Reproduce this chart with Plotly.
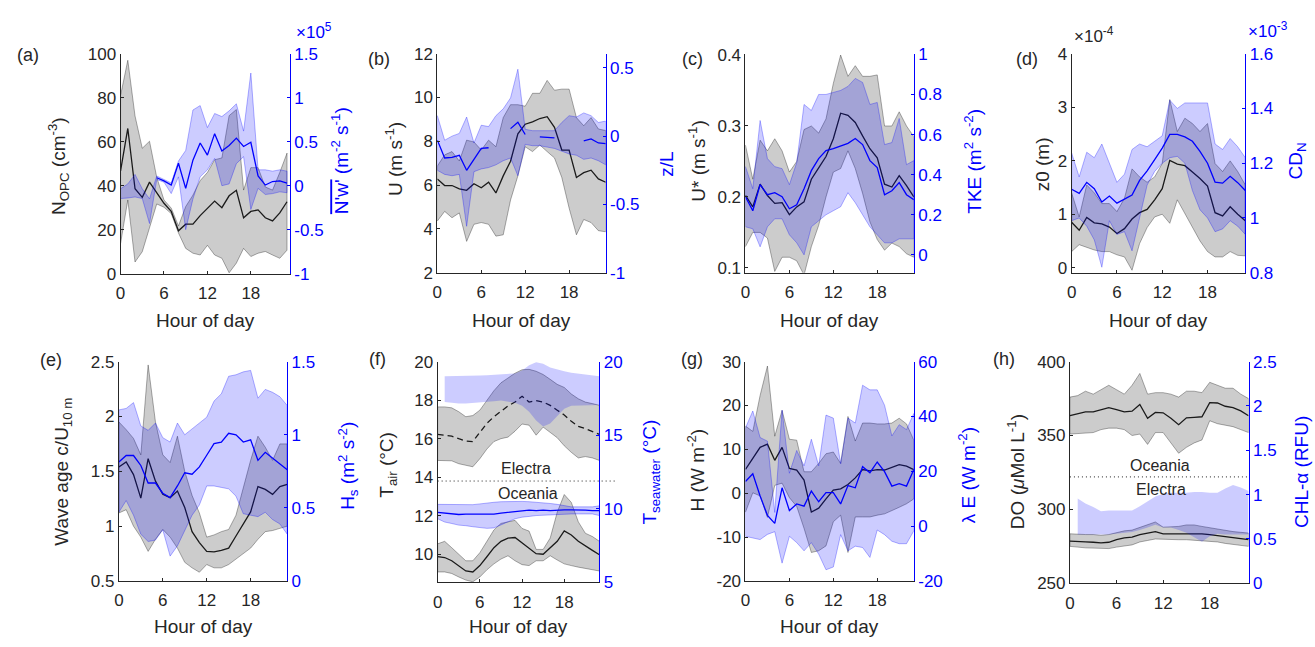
import plotly.graph_objects as go

W, H = 1315, 647
hours = list(range(24))

# ---------------- (a) N_OPC and N'w' ----------------
a_mean = [46.7, 66, 38.6, 34.7, 41.6, 37, 32, 28.3, 19.5, 22.5, 22.5, 26.4, 29.5, 33, 30, 35.4, 37.9, 25.4, 28.3, 29, 25.4, 24, 27.6, 32.7]
a_up = [81, 97, 71.7, 57, 60.2, 43.8, 33.5, 29.8, 21.7, 30.5, 35.7, 42.3, 46, 51.8, 52.6, 71.8, 74.6, 38, 48.2, 48.2, 39.4, 38, 46, 54.8]
a_lo = [13.7, 33.5, 5.3, 10, 20.3, 31.7, 30.2, 27.3, 18.5, 11.5, 9.3, 8.5, 12.9, 8.5, 7, 0.4, 4.8, 11.5, 7.8, 9.3, 10.1, 8.5, 7, 10.7]
a2_mean = [None, None, None, None, None, 0.09, 0.055, 0.007, 0.255, -0.03, 0.29, 0.485, 0.347, 0.591, 0.394, 0.456, 0.54, 0.445, 0.493, 0.11, 0.007, 0.047, 0.055, 0.03]
a2_up = [-0.036, 0.02, 0.128, -0.036, -0.15, 0.11, 0.07, 0.03, 0.28, 0.4, 0.86, 0.91, 0.66, 0.82, 0.785, 0.85, 0.93, 0.62, 1.28, 0.18, 0.18, 0.165, 0.18, 0.165]
a2_lo = [-0.146, -0.14, -0.128, -0.146, -0.43, 0.07, 0.04, -0.09, 0.1, -0.5, -0.15, 0.1, 0.18, 0.31, 0.0, 0.02, 0.25, 0.33, -0.27, -0.03, -0.1, -0.09, -0.07, -0.08]

# ---------------- (b) U and z/L ----------------
b_mean = [6.28, 5.98, 5.98, 5.83, 5.76, 6.06, 5.88, 6.13, 5.64, 6.42, 7.09, 8.34, 8.78, 8.89, 9.04, 9.12, 8.64, 7.6, 7.6, 6.35, 6.57, 6.68, 6.28, 6.13]
b_up = [6.87, 7.38, 7.53, 7.1, 8.05, 7.97, 7.6, 8.05, 7.75, 9.08, 9.67, 9.67, 9.6, 10.19, 10.19, 10.78, 10.33, 10.38, 10.38, 9.08, 8.71, 9.08, 8.56, 8.49]
b_lo = [4.36, 4.8, 4.51, 4.73, 3.43, 4.21, 4.29, 4.21, 3.67, 3.73, 5.32, 6.42, 7.75, 7.53, 7.83, 7.53, 7.24, 6.35, 4.95, 3.73, 4.43, 4.29, 3.92, 3.87]
b2_mean = [-0.03, -0.16, -0.155, -0.14, -0.25, -0.17, -0.09, -0.085, None, None, 0.055, 0.102, 0.012, None, -0.005, -0.01, -0.012, None, None, None, -0.035, -0.02, -0.05, -0.055]
b2_up = [0.15, -0.03, 0.0, 0.02, 0.14, -0.05, 0.08, 0.07, 0.15, 0.2, 0.28, 0.49, 0.05, 0.04, 0.04, 0.04, 0.04, 0.1, 0.15, 0.14, 0.17, 0.15, 0.1, 0.11]
b2_lo = [-0.25, -0.28, -0.29, -0.28, -0.66, -0.26, -0.24, -0.23, -0.21, -0.18, -0.16, -0.29, -0.06, -0.07, -0.07, -0.08, -0.09, -0.11, -0.13, -0.14, -0.17, -0.16, -0.18, -0.21]

# ---------------- (c) U* and TKE ----------------
c_mean = [0.2023, 0.186, 0.218, 0.202, 0.191, 0.192, 0.175, 0.186, 0.193, 0.225, 0.241, 0.257, 0.282, 0.318, 0.315, 0.305, 0.286, 0.268, 0.255, 0.218, 0.214, 0.23, 0.216, 0.2]
c_up = [0.273, 0.225, 0.28, 0.265, 0.282, 0.265, 0.235, 0.25, 0.295, 0.3, 0.29, 0.31, 0.36, 0.4, 0.37, 0.385, 0.37, 0.37, 0.372, 0.3, 0.3, 0.32, 0.3, 0.285]
c_lo = [0.13, 0.15, 0.15, 0.142, 0.095, 0.115, 0.115, 0.11, 0.09, 0.13, 0.16, 0.2, 0.235, 0.24, 0.265, 0.24, 0.205, 0.165, 0.14, 0.125, 0.135, 0.13, 0.12, 0.115]
c2_mean = [0.29, 0.22, 0.35, 0.30, 0.31, 0.29, 0.23, 0.25, 0.33, 0.42, 0.48, 0.52, 0.53, 0.545, 0.556, 0.58, 0.55, 0.47, 0.435, 0.30, 0.32, 0.36, 0.30, 0.275]
c2_up = [0.44, 0.33, 0.67, 0.48, 0.44, 0.43, 0.35, 0.46, 0.75, 0.72, 0.8, 0.8, 0.81, 0.82, 0.84, 0.88, 0.86, 0.75, 0.76, 0.55, 0.56, 0.68, 0.45, 0.47]
c2_lo = [0.14, 0.13, 0.04, 0.14, 0.18, 0.18, 0.1, 0.06, 0.0, 0.14, 0.17, 0.2, 0.22, 0.24, 0.31, 0.26, 0.2, 0.14, 0.1, 0.06, 0.06, 0.08, 0.08, 0.08]

# ---------------- (d) z0 (x1e-4) and CD_N (x1e-3) ----------------
d_mean = [0.85, 0.70, 0.94, 0.84, 0.82, 0.76, 0.64, 0.73, 0.91, 1.03, 1.09, 1.27, 1.48, 2.01, 1.94, 1.91, 1.79, 1.67, 1.53, 1.03, 0.97, 1.14, 1.0, 0.88]
d_up = [1.4, 0.95, 1.55, 1.4, 1.2, 1.2, 1.05, 1.3, 1.85, 1.7, 1.6, 1.7, 1.95, 3.15, 2.55, 2.8, 2.7, 2.55, 2.7, 1.95, 1.8, 2.0, 1.8, 1.55]
d_lo = [0.3, 0.43, 0.38, 0.33, 0.3, 0.3, 0.24, 0.2, -0.05, 0.45, 0.75, 0.95, 1.0, 0.83, 1.27, 1.0, 0.75, 0.5, 0.3, 0.2, 0.2, 0.3, 0.23, 0.22]
d2_mean = [1.105, 1.09, 1.13, 1.107, 1.058, 1.08, 1.054, 1.07, 1.084, 1.137, 1.172, 1.213, 1.255, 1.305, 1.305, 1.296, 1.28, 1.243, 1.2, 1.131, 1.127, 1.152, 1.129, 1.1]
d2_up = [1.237, 1.15, 1.24, 1.22, 1.27, 1.2, 1.13, 1.16, 1.25, 1.27, 1.26, 1.28, 1.3, 1.43, 1.4, 1.42, 1.42, 1.42, 1.42, 1.27, 1.25, 1.29, 1.26, 1.22]
d2_lo = [0.99, 1.0, 0.97, 0.92, 0.82, 0.99, 0.94, 0.95, 0.88, 1.0, 1.12, 1.17, 1.2, 1.22, 1.225, 1.2, 1.1, 1.03, 1.0, 0.95, 0.96, 0.99, 0.97, 0.94]

# ---------------- (e) Wave age and Hs ----------------
e_mean = [1.54, 1.585, 1.47, 1.255, 1.615, 1.41, 1.29, 1.26, 1.32, 1.17, 0.95, 0.85, 0.77, 0.766, 0.78, 0.80, 0.91, 1.02, 1.13, 1.36, 1.335, 1.29, 1.36, 1.38]
e_up = [1.95, 1.88, 1.8, 1.65, 2.47, 1.95, 1.65, 1.58, 1.82, 1.5, 1.28, 1.12, 0.9, 0.92, 0.95, 0.97, 1.1, 1.35, 1.6, 1.82, 1.72, 1.6, 1.75, 1.75]
e_lo = [1.12, 1.15, 1.0, 0.9, 0.77, 0.88, 0.97, 0.9, 0.8, 0.67, 0.62, 0.58, 0.65, 0.62, 0.62, 0.65, 0.7, 0.75, 0.8, 0.88, 0.95, 0.96, 0.98, 1.0]
e2_mean = [0.814, 0.858, 0.858, 0.79, 0.67, 0.67, 0.60, 0.57, 0.65, 0.74, 0.73, 0.78, 0.86, 0.94, 0.95, 1.01, 1.0, 0.95, 0.965, 0.825, 0.88, 0.84, 0.80, 0.76]
e2_up = [1.17, 1.18, 1.22, 1.06, 1.03, 1.08, 0.98, 0.95, 1.08, 1.0, 1.04, 1.08, 1.12, 1.23, 1.28, 1.40, 1.41, 1.43, 1.44, 1.25, 1.31, 1.29, 1.26, 1.2]
e2_lo = [0.47, 0.55, 0.45, 0.32, 0.27, 0.28, 0.35, 0.17, 0.24, 0.35, 0.45, 0.52, 0.65, 0.65, 0.64, 0.63, 0.58, 0.46, 0.45, 0.44, 0.47, 0.42, 0.39, 0.32]

# ---------------- (f) T_air and T_seawater (Electra / Oceania) ----------------
f_el_mean = [16.22, 16.18, 16.13, 16.0, 15.88, 15.85, 16.3, 16.8, 17.14, 17.43, 17.7, 17.9, 18.2, 17.9, 17.98, 17.9, 17.73, 17.48, 17.23, 16.9, 16.64, 16.52, 16.39, 16.22]
f_el_up = [17.65, 17.65, 17.6, 17.4, 17.14, 17.2, 17.48, 17.98, 18.49, 18.9, 19.16, 19.4, 19.58, 19.6, 19.5, 19.33, 19.08, 18.82, 18.66, 18.32, 18.07, 17.9, 17.82, 17.73]
f_el_lo = [14.87, 14.87, 14.85, 14.7, 14.62, 14.54, 14.96, 15.46, 15.85, 16.0, 16.08, 16.39, 16.76, 16.7, 16.18, 16.6, 16.35, 16.05, 15.63, 15.29, 15.0, 15.07, 15.0, 14.87]
f_el_sw_up = [None, 19.0, 19.0, 19.0, 19.02, 19.05, 19.05, 19.08, 19.1, 19.12, 19.15, 19.2, 19.4, 19.75, 19.95, 19.85, 19.6, 19.45, 19.35, 19.25, 19.2, 19.15, 19.1, 19.0]
f_el_sw_lo = [None, 17.25, 17.2, 17.15, 17.15, 17.15, 17.2, 17.25, 17.3, 17.35, 17.3, 17.2, 17.0, 16.6, 16.0, 15.6, 15.8, 16.3, 16.8, 17.0, 17.05, 17.05, 17.05, 17.05]
f_oc_mean = [9.88, 9.83, 9.66, 9.41, 9.13, 9.08, 9.41, 9.87, 10.34, 10.67, 10.84, 10.87, 10.59, 10.34, 10.03, 10.0, 10.34, 10.67, 11.21, 11.0, 10.67, 10.42, 10.2, 9.97]
f_oc_up = [10.54, 10.67, 10.34, 10.0, 9.66, 9.66, 10.08, 10.67, 11.26, 11.6, 11.68, 11.76, 11.34, 11.2, 10.25, 10.25, 10.84, 12.18, 13.1, 12.69, 11.68, 11.09, 10.92, 10.67]
f_oc_lo = [9.08, 9.08, 9.0, 8.82, 8.66, 8.57, 8.82, 9.19, 9.5, 9.75, 9.92, 9.66, 9.46, 9.41, 9.66, 9.66, 9.92, 9.7, 9.5, 9.41, 9.33, 9.24, 9.19, 9.13]
f_oc_sw_mean = [9.76, 9.72, 9.65, 9.61, 9.63, 9.64, 9.63, 9.61, 9.63, 9.7, 9.76, 9.8, 9.87, 9.91, 9.87, 9.91, 9.87, 9.91, 9.93, 9.93, 9.93, 9.91, 9.87, 9.87]
f_oc_sw_up = [10.3, 10.3, 10.3, 10.28, 10.26, 10.28, 10.33, 10.41, 10.44, 10.48, 10.5, 10.52, 10.5, 10.48, 10.45, 10.41, 10.36, 10.3, 10.2, 10.13, 10.13, 10.13, 10.13, 10.2]
f_oc_sw_lo = [9.32, 9.1, 9.0, 8.89, 8.85, 8.78, 8.75, 8.67, 8.7, 8.89, 9.1, 9.32, 9.43, 9.48, 9.54, 9.55, 9.56, 9.61, 9.63, 9.65, 9.65, 9.63, 9.65, 9.54]
f_divider = 13.8

# ---------------- (g) H and lambda E ----------------
g_mean = [5.44, 8.1, 10.46, 11.2, 7.5, 10.46, 5.66, 5.3, 3.0, -4.3, -3.4, -1.3, 0.7, 1.0, 2.0, 3.5, 5.4, 5.1, 5.4, 5.3, 5.9, 6.5, 6.2, 5.4]
g_up = [15.3, 14.1, 22.3, 29.0, 13.0, 18.9, 12.3, 12.1, 4.9, 4.9, 6.8, 9.0, 9.4, 6.8, 17.5, 11.9, 16.0, 16.0, 15.8, 15.8, 16.0, 17.1, 15.8, 12.1]
g_lo = [-4.3, 0.1, -0.6, -5.5, 1.8, 2.3, -1.0, -3.0, -8.0, -13.5, -13.1, -12.0, -6.5, -5.0, -13.5, -5.4, -5.4, -5.4, -5.0, -4.7, -3.9, -3.2, -2.4, -1.3]
g2_mean = [16.3, 19.1, 11.0, 3.95, 1.0, 14.0, 5.7, 8.1, 7.3, 12.8, 8.9, 12.2, 12.2, 8.1, 14.8, 14.0, 21.7, 19.5, 23.4, 19.9, 14.6, 15.5, 14.6, 20.7]
g2_up = [35.8, 42.0, 32.3, 31.0, 5.0, 42.3, 19.3, 27.6, 22.0, 31.7, 22.0, 40.5, 39.4, 22.8, 39.4, 37.6, 51.4, 49.7, 49.7, 44.1, 32.9, 37.0, 35.2, 41.1]
g2_lo = [-3.7, -4.3, -4.9, -3.0, -2.0, -13.5, -3.7, -6.0, -9.0, -6.0, -10.2, -15.9, -14.9, -3.1, -9.0, -7.3, -7.8, -11.4, -1.4, -3.1, -5.5, -6.4, -6.4, -1.7]

# ---------------- (h) DO and CHL-alpha (Oceania / Electra) ----------------
h_oc_mean = [363.4, 364.5, 366, 366, 367.6, 368.9, 367.6, 366, 366.5, 371, 361.7, 365.6, 365.4, 361.7, 357.3, 362, 362.3, 362.7, 372.2, 372, 369.8, 368.9, 366.7, 363.4]
h_oc_up = [376, 377, 380, 378, 381, 384, 381, 378, 384, 392, 378, 379, 379, 378, 376, 380, 380, 379, 386, 384, 382, 382, 378, 375]
h_oc_lo = [351, 351, 351.5, 352, 354, 355, 355, 354, 350, 351, 344, 352, 352, 345, 338, 342, 345, 347, 360, 358, 357, 356, 354, 352]
h_el_mean = [278.5, 278.5, 278, 277.8, 277.4, 277.8, 279.6, 280.7, 281.2, 282.9, 284, 285, 283.5, 283.5, 284, 284, 284, 283.5, 282.9, 282.2, 281.5, 280.7, 280, 279.6]
h_el_up = [283.5, 283, 283, 283, 282.5, 283, 284.5, 285.5, 286, 288, 289.5, 291.5, 288, 288, 288.5, 289.5, 289.5, 288.5, 287.5, 286.5, 285.5, 285, 284.5, 284]
h_el_lo = [275, 274.5, 274, 274, 273.5, 273.5, 274.5, 275.5, 276, 278, 279, 280, 279.5, 279.5, 279.5, 279.5, 279.5, 279, 278.5, 278, 277, 276, 275.5, 275]
h_chl_up = [None, 0.956, 0.9, 0.86, 0.814, 0.82, 0.82, 0.82, 0.82, 0.87, 0.93, 0.98, 1.01, 1.02, 1.02, 1.02, 1.03, 1.03, 1.02, 1.02, 1.07, 1.11, 1.08, 1.04]
h_chl_lo = [None, 0.55, 0.55, 0.55, 0.55, 0.55, 0.56, 0.57, 0.58, 0.6, 0.63, 0.66, 0.63, 0.63, 0.6, 0.57, 0.52, 0.47, 0.53, 0.56, 0.55, 0.55, 0.55, 0.55]
h_divider = 322

# ---------------- styling ----------------
FONT = "Liberation Sans, Arial, Helvetica, sans-serif"
AX = "#262626"
BLUE = "#0000ff"
GRAY_FILL = "rgba(0,0,0,0.2)"
GRAY_EDGE = "rgba(0,0,0,0.32)"
BLUE_FILL = "rgba(0,0,255,0.2)"
BLUE_EDGE = "rgba(0,0,255,0.3)"
TICK_FS = 17
LAB_FS = 19

fig = go.Figure()


def band(panel, side, up, lo, fill, edge):
    xa = "x" if panel == 0 else f"x{panel + 1}"
    yi = 2 * panel + (1 if side == "L" else 2)
    ya = "y" if yi == 1 else f"y{yi}"
    pts = [(h, u, l) for h, u, l in zip(hours, up, lo) if u is not None and l is not None]
    xs = [p[0] for p in pts] + [p[0] for p in pts[::-1]] + [pts[0][0]]
    ys = [p[1] for p in pts] + [p[2] for p in pts[::-1]] + [pts[0][1]]
    fig.add_trace(go.Scatter(x=xs, y=ys, xaxis=xa, yaxis=ya, mode="lines", fill="toself",
                             fillcolor=fill, line=dict(color=edge, width=1),
                             hoverinfo="skip", showlegend=False))


def line(panel, side, vals, color, dash="solid", width=1.3):
    xa = "x" if panel == 0 else f"x{panel + 1}"
    yi = 2 * panel + (1 if side == "L" else 2)
    ya = "y" if yi == 1 else f"y{yi}"
    fig.add_trace(go.Scatter(x=hours, y=vals, xaxis=xa, yaxis=ya, mode="lines",
                             line=dict(color=color, width=width, dash=dash),
                             connectgaps=False, hoverinfo="skip", showlegend=False))


# left-axis traces first, right-axis traces afterwards (drawn on top)
band(0, "L", a_up, a_lo, GRAY_FILL, GRAY_EDGE); line(0, "L", a_mean, "#1a1a1a")
band(0, "R", a2_up, a2_lo, BLUE_FILL, BLUE_EDGE); line(0, "R", a2_mean, BLUE)
band(1, "L", b_up, b_lo, GRAY_FILL, GRAY_EDGE); line(1, "L", b_mean, "#1a1a1a")
band(1, "R", b2_up, b2_lo, BLUE_FILL, BLUE_EDGE); line(1, "R", b2_mean, BLUE)
band(2, "L", c_up, c_lo, GRAY_FILL, GRAY_EDGE); line(2, "L", c_mean, "#1a1a1a")
band(2, "R", c2_up, c2_lo, BLUE_FILL, BLUE_EDGE); line(2, "R", c2_mean, BLUE)
band(3, "L", d_up, d_lo, GRAY_FILL, GRAY_EDGE); line(3, "L", d_mean, "#1a1a1a")
band(3, "R", d2_up, d2_lo, BLUE_FILL, BLUE_EDGE); line(3, "R", d2_mean, BLUE)
band(4, "L", e_up, e_lo, GRAY_FILL, GRAY_EDGE); line(4, "L", e_mean, "#1a1a1a")
band(4, "R", e2_up, e2_lo, BLUE_FILL, BLUE_EDGE); line(4, "R", e2_mean, BLUE)
band(5, "L", f_el_up, f_el_lo, GRAY_FILL, GRAY_EDGE); line(5, "L", f_el_mean, "#1a1a1a", dash="6px,4px")
band(5, "L", f_oc_up, f_oc_lo, GRAY_FILL, GRAY_EDGE); line(5, "L", f_oc_mean, "#1a1a1a")
band(5, "R", f_el_sw_up, f_el_sw_lo, BLUE_FILL, "rgba(0,0,255,0.0)")
band(5, "R", f_oc_sw_up, f_oc_sw_lo, BLUE_FILL, BLUE_EDGE); line(5, "R", f_oc_sw_mean, BLUE)
band(6, "L", g_up, g_lo, GRAY_FILL, GRAY_EDGE); line(6, "L", g_mean, "#1a1a1a")
band(6, "R", g2_up, g2_lo, BLUE_FILL, BLUE_EDGE); line(6, "R", g2_mean, BLUE)
band(7, "L", h_oc_up, h_oc_lo, GRAY_FILL, GRAY_EDGE); line(7, "L", h_oc_mean, "#1a1a1a")
band(7, "L", h_el_up, h_el_lo, GRAY_FILL, GRAY_EDGE); line(7, "L", h_el_mean, "#1a1a1a")
band(7, "R", h_chl_up, h_chl_lo, BLUE_FILL, "rgba(0,0,255,0.0)")

# panel geometry in pixels: (left, right, top, bottom)
geo = [
    (116, 286, 46, 272.7),
    (434, 603, 46, 271.7),
    (743.3, 912.3, 46.7, 271.7),
    (1070.7, 1245, 46, 271.7),
    (114.3, 283.3, 363.3, 589.3),
    (434.3, 596.7, 363.3, 590.7),
    (743.3, 912.3, 363.3, 589.3),
    (1069, 1248.3, 363.3, 591.7),
]
xranges = [[0, 23.4], [0, 23], [0, 23], [0, 23], [0, 23], [0, 23], [0, 23], [0, 23]]
yl_ranges = [[0, 100], [2, 12], [0.0932, 0.401], [-0.096, 4.01], [0.5, 2.5], [8.54, 20], [-20, 30], [250, 400]]
yr_ranges = [[-1, 1.5], [-1, 0.604], [-0.089, 1], [0.8, 1.6], [0, 1.5], [5, 20], [-20, 60], [0, 2.5]]
yl_ticks = [
    [0, 20, 40, 60, 80, 100],
    [2, 4, 6, 8, 10, 12],
    [0.1, 0.2, 0.3, 0.4],
    [0, 1, 2, 3, 4],
    [0.5, 1, 1.5, 2, 2.5],
    [10, 12, 14, 16, 18, 20],
    [-20, -10, 0, 10, 20, 30],
    [250, 300, 350, 400],
]
yr_ticks = [
    [-1, -0.5, 0, 0.5, 1, 1.5],
    [-1, -0.5, 0, 0.5],
    [0, 0.2, 0.4, 0.6, 0.8, 1],
    [0.8, 1.0, 1.2, 1.4, 1.6],
    [0, 0.5, 1, 1.5],
    [5, 10, 15, 20],
    [-20, 0, 20, 40, 60],
    [0, 0.5, 1, 1.5, 2, 2.5],
]
x_ticks = [0, 6, 12, 18]


def fmt(v):
    return "%g" % v


layout = dict(
    width=W, height=H, autosize=False,
    margin=dict(l=0, r=0, t=0, b=0),
    paper_bgcolor="white", plot_bgcolor="rgba(0,0,0,0)",
    font=dict(family=FONT, size=TICK_FS, color=AX),
    showlegend=False,
)

for i, (l, r, t, b) in enumerate(geo):
    xk = "xaxis" if i == 0 else f"xaxis{i + 1}"
    ylk = "yaxis" if i == 0 else f"yaxis{2 * i + 1}"
    yrk = f"yaxis{2 * i + 2}"
    xname = "x" if i == 0 else f"x{i + 1}"
    ylname = "y" if i == 0 else f"y{2 * i + 1}"
    layout[xk] = dict(domain=[l / W, r / W], range=xranges[i], anchor=ylname,
                      tickvals=x_ticks, ticktext=[fmt(v) for v in x_ticks],
                      ticks="inside", ticklen=3, tickcolor=AX, showline=True, linecolor=AX,
                      linewidth=1, showgrid=False, zeroline=False, ticklabelstandoff=4,
                      tickfont=dict(size=TICK_FS, color=AX, family=FONT))
    layout[ylk] = dict(domain=[1 - b / H, 1 - t / H], range=yl_ranges[i], anchor=xname,
                       tickvals=yl_ticks[i], ticktext=[fmt(v) for v in yl_ticks[i]],
                       ticks="inside", ticklen=3, tickcolor=AX, showline=True, linecolor=AX,
                       linewidth=1, showgrid=False, zeroline=False,
                       tickfont=dict(size=TICK_FS, color=AX, family=FONT))
    layout[yrk] = dict(range=yr_ranges[i], anchor=xname, overlaying=ylname, side="right",
                       tickvals=yr_ticks[i], ticktext=[fmt(v) for v in yr_ticks[i]],
                       ticks="inside", ticklen=3, tickcolor=BLUE, showline=True, linecolor=BLUE,
                       linewidth=1, showgrid=False, zeroline=False,
                       tickfont=dict(size=TICK_FS, color=BLUE, family=FONT))

fig.update_layout(**layout)


def P(x, y):
    return x / W, 1 - y / H


ann = []


def text(x, y, s, size=LAB_FS, color=AX, angle=0, xanchor="center"):
    px, py = P(x, y)
    ann.append(dict(x=px, y=py, xref="paper", yref="paper", text=s, showarrow=False,
                    textangle=angle, xanchor=xanchor, yanchor="middle",
                    font=dict(size=size, color=color, family=FONT)))


# panel letters
for s, x, y in [("(a)", 23, 47), ("(b)", 375, 52), ("(c)", 690, 52), ("(d)", 1026, 52),
                ("(e)", 46, 362), ("(f)", 374, 361), ("(g)", 690, 361), ("(h)", 1003, 361)]:
    text(x, y, s, size=18)

# x-axis titles
for i, (l, r, t, b) in enumerate(geo):
    if i == 7:
        continue
    yy = 321 if i < 4 else 636
    text((l + r) / 2, yy, "Hour of day")

# y-axis titles
text(53, 162, "N<sub>OPC</sub> (cm<sup>-3</sup>)", angle=-90)
text(337, 156, "<span style=\"text-decoration:overline\">N'w'</span> (m<sup>-2</sup> s<sup>-1</sup>)", angle=-90, color=BLUE)
text(391, 155, "U (m s<sup>-1</sup>)", angle=-90)
text(664, 160, "z/L", angle=-90, color=BLUE)
text(695, 157, "U* (m s<sup>-1</sup>)", angle=-90)
text(972, 157, "TKE (m<sup>2</sup> s<sup>-2</sup>)", angle=-90, color=BLUE)
text(1041, 160, "z0 (m)", angle=-90)
text(1297, 157, "CD<sub>N</sub>", angle=-90, color=BLUE)
text(58, 477, "Wave age c/U<sub>10 m</sub>", angle=-90)
text(344, 471, "H<sub>s</sub> (m<sup>2</sup> s<sup>-2</sup>)", angle=-90, color=BLUE)
text(385, 470, "T<sub>air</sub> (°C)", angle=-90)
text(648, 477, "T<sub>seawater</sub> (°C)", angle=-90, color=BLUE)
text(694, 475, "H (W m<sup>-2</sup>)", angle=-90)
text(966, 480, "λ E (W m<sup>-2</sup>)", angle=-90, color=BLUE)
text(1015, 477, "DO (<i>μ</i>Mol L<sup>-1</sup>)", angle=-90)
text(1302, 477, "CHL-α (RFU)", angle=-90, color=BLUE)

# exponent labels
text(290, 23, "×10<sup>5</sup>", size=17, color=BLUE, xanchor="left")
text(1071, 27, "×10<sup>-4</sup>", size=17, color=AX, xanchor="left")
text(1246, 22, "×10<sup>-3</sup>", size=17, color=BLUE, xanchor="left")

# site labels
text(523, 473, "Electra", size=16)
text(525, 499, "Oceania", size=16)
text(1159, 470, "Oceania", size=16)
text(1160, 495, "Electra", size=16)

fig.update_layout(annotations=ann)

# dotted separators (extend past right axis as in the original)
fig.add_shape(type="line", xref="paper", yref="y11", x0=434.3 / W, x1=613 / W,
              y0=f_divider, y1=f_divider, line=dict(color="#222222", width=1, dash="1px,3px"))
fig.add_shape(type="line", xref="paper", yref="y15", x0=1069 / W, x1=1247 / W,
              y0=h_divider, y1=h_divider, line=dict(color="#222222", width=1, dash="1px,3px"))

fig.write_html("out.html", config={"displayModeBar": False})
